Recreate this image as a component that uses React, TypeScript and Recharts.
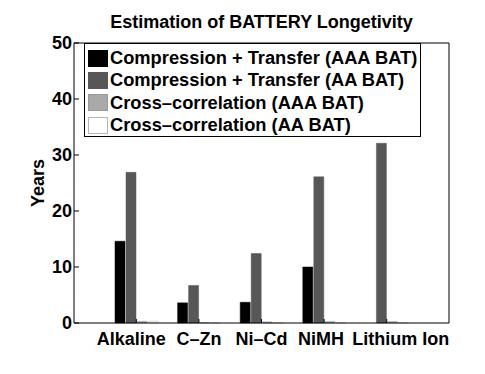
import React from 'react'
import { BarChart, Bar, XAxis, YAxis, Legend } from 'recharts'

// battery types along the x axis
const batteries = ['Alkaline', 'C\u2013Zn', 'Ni\u2013Cd', 'NiMH', 'Lithium Ion']

// years
const ctAAA = [14.6, 3.6, 3.7, 10.0, 0]
const ctAA = [26.9, 6.7, 12.4, 26.1, 32.1]
const xcAAA = [0.3, 0.05, 0.2, 0.25, 0.25]
const xcAA = [0.3, 0.02, 0.05, 0.05, 0.05]

const yTicks = [0, 10, 20, 30, 40, 50]

const series = [
  { key: 'ctAAA', name: 'Compression + Transfer (AAA BAT)', fill: '#000000', stroke: '#000000' },
  { key: 'ctAA', name: 'Compression + Transfer (AA BAT)', fill: '#575757', stroke: '#575757' },
  { key: 'xcAAA', name: 'Cross\u2013correlation (AAA BAT)', fill: '#a9a9a9', stroke: '#999999' },
  { key: 'xcAA', name: 'Cross\u2013correlation (AA BAT)', fill: '#ffffff', stroke: '#b5b5b5' },
]

const rows = batteries.map((b, i) => ({
  battery: b,
  ctAAA: ctAAA[i],
  ctAA: ctAA[i],
  xcAAA: xcAAA[i],
  xcAA: xcAA[i],
}))

// plot box (px)
const LEFT = 74
const RIGHT = 449
const TOP = 43
const BOTTOM = 323

// the original spreads its x labels a bit so they don't collide
const labelNudge = [-5, 0, 0, -3, 14]

const FONT = '"Liberation Sans", Arial, Helvetica, sans-serif'

const LeftTick = (props: any) => {
  const { y, payload } = props
  return (
    <g>
      <line x1={LEFT} x2={LEFT + 5} y1={y} y2={y} stroke="#000" />
      <text x={LEFT - 2} y={y} textAnchor="end" dominantBaseline="central"
        fontFamily={FONT} fontWeight="bold" fontSize={18} fill="#000">
        {payload.value}
      </text>
    </g>
  )
}

const RightTick = (props: any) => {
  const { y } = props
  return <line x1={RIGHT - 5} x2={RIGHT} y1={y} y2={y} stroke="#000" />
}

const BottomTick = (props: any) => {
  const { x, payload, index } = props
  return (
    <g>
      <line x1={x} x2={x} y1={BOTTOM} y2={BOTTOM - 4} stroke="#000" />
      <text x={x + (labelNudge[index] || 0)} y={BOTTOM + 22} textAnchor="middle"
        fontFamily={FONT} fontWeight="bold" fontSize={18} fill="#000">
        {payload.value}
      </text>
    </g>
  )
}

const TopTick = (props: any) => {
  const { x } = props
  return <line x1={x} x2={x} y1={TOP} y2={TOP + 4} stroke="#000" />
}

const LegendBox = (props: any) => {
  const { payload } = props
  const items = [...(payload || [])].sort(
    (a: any, b: any) => series.findIndex(s => s.name === a.value) - series.findIndex(s => s.name === b.value)
  )
  return (
    <div style={{
      border: '1px solid #000', background: '#fff', padding: '3px 3px 0 3px',
      fontFamily: FONT, fontWeight: 'bold', fontSize: 18.3, color: '#000',
    }}>
      {items.map((p: any) => {
        const s = series.find(s => s.name === p.value)
        return (
          <div key={p.value} style={{ display: 'flex', alignItems: 'center', height: 22.3, whiteSpace: 'nowrap' }}>
            <span style={{
              display: 'inline-block', width: 18, height: 15, marginRight: 2,
              background: s ? s.fill : p.color, border: `1px solid ${s ? s.stroke : p.color}`,
            }} />
            {p.value}
          </div>
        )
      })}
    </div>
  )
}

export default function App() {
  return (
    <div style={{ position: 'absolute', left: 0, top: 0, width: 485, height: 374, background: '#fff' }}>
      <div style={{
        position: 'absolute', left: LEFT, width: RIGHT - LEFT, top: 12, textAlign: 'center',
        fontFamily: FONT, fontWeight: 'bold', fontSize: 18, color: '#000',
      }}>
        Estimation of BATTERY Longetivity
      </div>
      <BarChart width={485} height={374} data={rows}
        margin={{ top: TOP - 4, right: 485 - RIGHT - 6, bottom: 374 - BOTTOM - 30, left: LEFT - 30 }}
        barSize={10} barGap={1}>
        <XAxis dataKey="battery" height={30} interval={0} padding={{ left: 31, right: 31 }}
          axisLine={{ stroke: '#000' }} tickLine={false} tick={<BottomTick />} />
        <XAxis xAxisId="top" orientation="top" dataKey="battery" height={4} interval={0}
          padding={{ left: 31, right: 31 }}
          axisLine={{ stroke: '#000' }} tickLine={false} tick={<TopTick />} />
        <YAxis domain={[0, 50]} ticks={yTicks} width={30} interval={0}
          axisLine={{ stroke: '#000' }} tickLine={false} tick={<LeftTick />}
          label={{
            content: () => (
              <text transform={`translate(38, ${(TOP + BOTTOM) / 2}) rotate(-90)`} textAnchor="middle"
                dominantBaseline="central" fontFamily={FONT} fontWeight="bold" fontSize={18} fill="#000">
                Years
              </text>
            ),
          }} />
        <YAxis yAxisId="right" orientation="right" domain={[0, 50]} ticks={yTicks} width={6} interval={0}
          axisLine={{ stroke: '#000' }} tickLine={false} tick={<RightTick />} />
        <Legend layout="vertical" align="center" verticalAlign="middle"
          wrapperStyle={{ left: 84, top: TOP, width: 'auto' }} content={<LegendBox />} />
        {series.map(s => (
          <Bar key={s.key} dataKey={s.key} name={s.name} fill={s.fill} stroke={s.stroke}
            strokeWidth={0.5} isAnimationActive={false} />
        ))}
      </BarChart>
    </div>
  )
}
